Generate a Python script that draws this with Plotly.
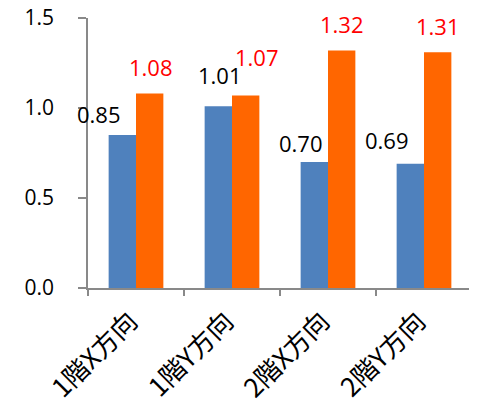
import plotly.graph_objects as go

categories = ["1階X方向", "1階Y方向", "2階X方向", "2階Y方向"]
series_blue = [0.85, 1.01, 0.70, 0.69]
series_orange = [1.08, 1.07, 1.32, 1.31]
y_ticks = [0.0, 0.5, 1.0, 1.5]

# label placement offsets (pixels) — styling only
blue_dx = [-37, -12, -27, -37]
blue_dy = [21, 31, 19, 24]
orange_dx = [15, 25, 14, 14]
orange_dy = [27, 38, 26, 26]

BLUE = "#4F81BD"
ORANGE = "#FF6600"
FONT = "Open Sans, Noto Sans CJK JP, sans-serif"

fig = go.Figure()
fig.add_bar(x=categories, y=series_blue, marker=dict(color=BLUE, line=dict(width=0)))
fig.add_bar(x=categories, y=series_orange, marker=dict(color=ORANGE, line=dict(width=0)))

ann = []
for i, c in enumerate(categories):
    ann.append(dict(x=c, y=series_blue[i], text=f"{series_blue[i]:.2f}", showarrow=False,
                    xshift=blue_dx[i], yshift=blue_dy[i], yanchor="middle", xanchor="center",
                    font=dict(color="black", size=22, family=FONT)))
    ann.append(dict(x=c, y=series_orange[i], text=f"{series_orange[i]:.2f}", showarrow=False,
                    xshift=orange_dx[i], yshift=orange_dy[i], yanchor="middle", xanchor="center",
                    font=dict(color="#FF0000", size=22, family=FONT)))

# page body has an 8px default margin, so the figure is sized to fit the window
fig.update_layout(
    width=469, height=396,
    margin=dict(l=80, r=5, t=10, b=116),
    barmode="group", bargap=0.43, bargroupgap=0,
    showlegend=False,
    plot_bgcolor="white", paper_bgcolor="white",
    annotations=ann,
    font=dict(family=FONT, color="black"),
)
fig.update_xaxes(
    automargin=False, range=[-0.5, len(categories) - 0.5],
    showline=True, linecolor="#898989", linewidth=1.5,
    ticks="outside", tickson="boundaries", ticklen=6, tickcolor="#898989", tickwidth=1.5,
    tickangle=-45, tickfont=dict(size=26, family="Noto Sans CJK JP", color="black"),
    showgrid=False, ticklabelstandoff=6, ticklabelshift=-6, ticklabeloverflow="allow",
)
fig.update_yaxes(
    automargin=False,
    range=[0, 1.5], tickvals=y_ticks, tickformat=".1f",
    showline=True, linecolor="#898989", linewidth=1.5,
    ticks="outside", ticklen=8, tickcolor="#898989", tickwidth=1.5,
    tickfont=dict(size=21, family=FONT, color="black"),
    showgrid=False, zeroline=False, ticklabelstandoff=20, ticklabeloverflow="allow",
)
fig.write_html("out.html")
